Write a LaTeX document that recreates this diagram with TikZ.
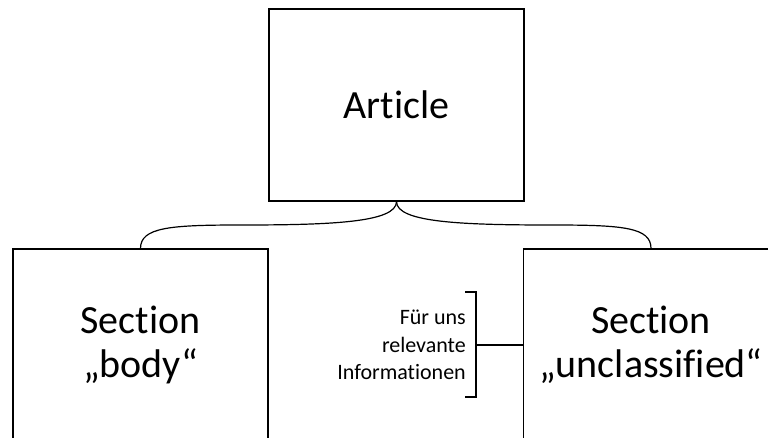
\documentclass[tikz,border=0pt]{standalone}
\usepackage{fontspec}
\setmainfont{Carlito}[Ligatures=NoCommon]
\begin{document}
\begin{tikzpicture}[x=1pt,y=-1pt,
  box/.style={draw, line width=1.2pt, minimum width=255pt, minimum height=192pt,
    inner sep=0pt, align=center, font=\fontsize{40}{44}\selectfont},
  note/.style={align=right, inner sep=0pt, font=\fontsize{22}{27.5}\selectfont},
  link/.style={line width=1.2pt}]
\useasboundingbox (0,0) rectangle (768,437);
\clip (0,0) rectangle (768,437);

% the three document parts
\node[box] (art)  at (396.5,105) {Article};
\node[box] (body) at (140.5,345) {Section\\„body“};
\node[box] (uncl) at (651,345)   {Section\\„unclassified“};

% curly brace from the article down to both sections
\coordinate (bl) at (240,225);
\coordinate (br) at (553,225);
\draw[link] (body.north) .. controls +(0,-21) and +(-70,0) .. (bl)
  .. controls +(90,0) and +(0,21) .. (art.south);
\draw[link] (art.south) .. controls +(0,21) and +(-90,0) .. (br)
  .. controls +(70,0) and +(0,-21) .. (uncl.north);

% side note with its bracket
\node[note, anchor=east] (info) at (466,345) {Für uns\\relevante\\Informationen};
\coordinate (bt) at (476,292);
\coordinate (bb) at (476,397);
\coordinate (bm) at (476,345);
\draw[link] ([xshift=-11pt]bt) -- (bt) -- (bb) -- ([xshift=-11pt]bb);
\draw[link] (bm) -- (uncl.west |- bm);
\end{tikzpicture}
\end{document}
